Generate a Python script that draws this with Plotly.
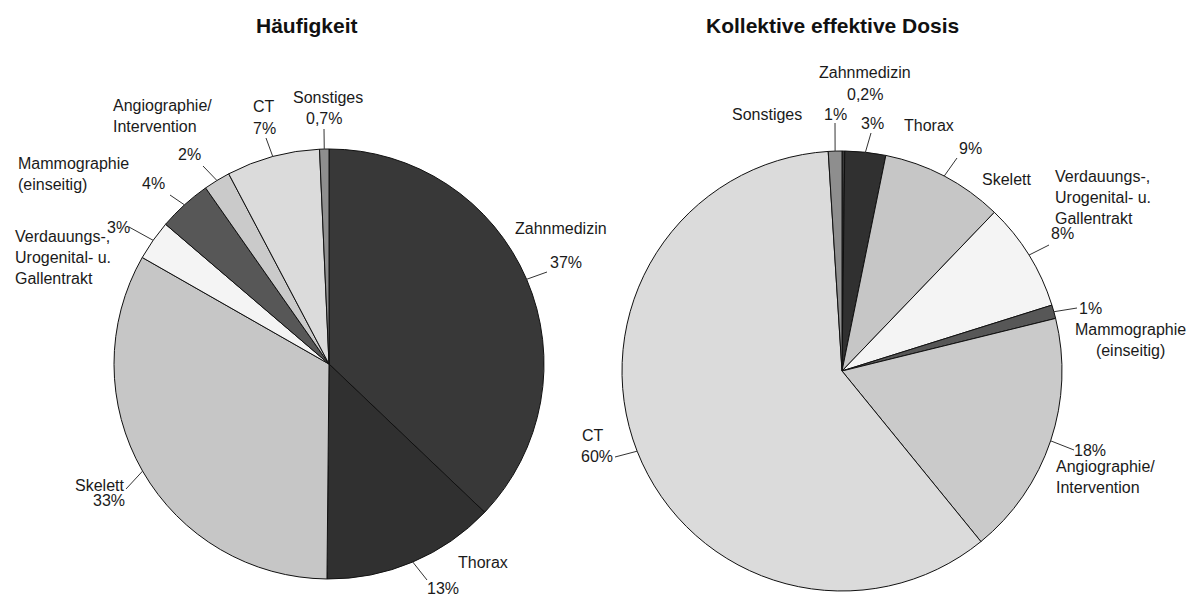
import math
import plotly.graph_objects as go

W, H = 1199, 599

# Categories in drawing order (clockwise from 12 o'clock)
categories = [
    "Zahnmedizin",
    "Thorax",
    "Skelett",
    "Verdauungs-, Urogenital- u. Gallentrakt",
    "Mammographie (einseitig)",
    "Angiographie/ Intervention",
    "CT",
    "Sonstiges",
]

# Share of examinations (%)
haeufigkeit = [37, 13, 33, 3, 4, 2, 7, 0.7]
haeufigkeit_labels = ["37%", "13%", "33%", "3%", "4%", "2%", "7%", "0,7%"]

# Share of collective effective dose (%)
dosis = [0.2, 3, 9, 8, 1, 18, 60, 1]
dosis_labels = ["0,2%", "3%", "9%", "8%", "1%", "18%", "60%", "1%"]

titles = ["Häufigkeit", "Kollektive effektive Dosis"]

# Grey shade per category
shades = {
    "Zahnmedizin": "#383838",
    "Thorax": "#303030",
    "Skelett": "#c6c6c6",
    "Verdauungs-, Urogenital- u. Gallentrakt": "#f4f4f4",
    "Mammographie (einseitig)": "#575757",
    "Angiographie/ Intervention": "#cacaca",
    "CT": "#dbdbdb",
    "Sonstiges": "#8e8e8e",
}
colors = [shades[c] for c in categories]

FONT = "Liberation Sans, Arial, sans-serif"
TXT = "#1a1a1a"

# Pie placement in pixels: centre x, centre y, radius
pies = [
    dict(cx=329, cy=364, r=215),
    dict(cx=842, cy=371, r=220),
]


def px_x(x):
    return x / W


def px_y(y):
    return 1 - y / H


# Label layout per pie: name text/position, percentage position, leader end
# (None for no leader).  Entries follow the category order.
left_layout = [
    dict(name=("Zahnmedizin", 513, 228, "left"), pct=(566, 262), lead=(547, 272)),
    dict(name=("Thorax", 483, 562, "center"), pct=(443, 588), lead=(427, 580)),
    dict(name=("Skelett", 99, 485, "center"), pct=(109, 500), lead=(126, 489)),
    dict(name=("Verdauungs-,<br>Urogenital- u.<br>Gallentrakt", 13, 257, "left"),
         pct=(118, 227), lead=(129, 227)),
    dict(name=("Mammographie<br>(einseitig)", 16, 174, "left"), pct=(153, 183), lead=(170, 195)),
    dict(name=("Angiographie/<br>Intervention", 111, 116, "left"), pct=(189, 154), lead=(203, 166)),
    dict(name=("CT", 264, 107, "center"), pct=(264, 128), lead=(266, 138)),
    dict(name=("Sonstiges", 328, 97, "center"), pct=(324, 118), lead=(324, 129)),
]

right_layout = [
    dict(name=("Zahnmedizin", 865, 73, "center"), pct=(865, 94), lead=None),
    dict(name=("Thorax", 929, 125, "center"), pct=(872, 123), lead=(871, 133)),
    dict(name=("Skelett", 1006, 179, "center"), pct=(970, 148), lead=(957, 158)),
    dict(name=("Verdauungs-,<br>Urogenital- u.<br>Gallentrakt", 1053, 197, "left"),
         pct=(1062, 233), lead=(1049, 245)),
    dict(name=("Mammographie<br>(einseitig)", 1130, 340, "center"), pct=(1090, 308), lead=(1077, 308)),
    dict(name=("Angiographie/<br>Intervention", 1054, 477, "left"), pct=(1090, 450), lead=(1074, 450)),
    dict(name=("CT", 593, 435, "center"), pct=(597, 457), lead=(615, 457)),
    dict(name=("Sonstiges", 767, 114, "center"), pct=(835, 114), lead=(835, 123)),
]

fig = go.Figure()

series = [(haeufigkeit, haeufigkeit_labels, left_layout),
          (dosis, dosis_labels, right_layout)]

shapes = []
annotations = []

for (values, pct_labels, layout), geo, title in zip(series, pies, titles):
    cx, cy, r = geo["cx"], geo["cy"], geo["r"]
    fig.add_trace(go.Pie(
        labels=categories,
        values=values,
        sort=False,
        direction="clockwise",
        rotation=0,
        textinfo="none",
        hoverinfo="label+percent",
        marker=dict(colors=colors, line=dict(color="#111111", width=1)),
        domain=dict(x=[px_x(cx - r), px_x(cx + r)],
                    y=[px_y(cy + r), px_y(cy - r)]),
        showlegend=False,
    ))

    total = sum(values)
    cum = 0.0
    for v, pct, spec in zip(values, pct_labels, layout):
        mid = 2 * math.pi * (cum + v / 2) / total
        cum += v
        # leader line from the rim at the slice's mid angle
        if spec["lead"] is not None:
            sx = cx + r * math.sin(mid)
            sy = cy - r * math.cos(mid)
            ex, ey = spec["lead"]
            shapes.append(dict(type="line", xref="paper", yref="paper",
                               x0=px_x(sx), y0=px_y(sy), x1=px_x(ex), y1=px_y(ey),
                               line=dict(color="#333333", width=1)))
        text, nx, ny, anchor = spec["name"]
        annotations.append(dict(text=text, xref="paper", yref="paper",
                                x=px_x(nx), y=px_y(ny), xanchor=anchor, yanchor="middle",
                                align="left" if anchor == "left" else "center",
                                showarrow=False,
                                font=dict(family=FONT, size=16, color=TXT)))
        annotations.append(dict(text=pct, xref="paper", yref="paper",
                                x=px_x(spec["pct"][0]), y=px_y(spec["pct"][1]),
                                xanchor="center", yanchor="middle", showarrow=False,
                                font=dict(family=FONT, size=16, color=TXT)))

# Chart titles
title_pos = [(307, 25), (832, 25)]
for t, (tx, ty) in zip(titles, title_pos):
    annotations.append(dict(text="<b>%s</b>" % t, xref="paper", yref="paper",
                            x=px_x(tx), y=px_y(ty), xanchor="center", yanchor="middle",
                            showarrow=False,
                            font=dict(family=FONT, size=21, color="#111111")))

fig.update_layout(
    width=W, height=H,
    margin=dict(l=0, r=0, t=0, b=0),
    paper_bgcolor="white",
    plot_bgcolor="white",
    shapes=shapes,
    annotations=annotations,
    showlegend=False,
)

fig.write_html("out.html")
